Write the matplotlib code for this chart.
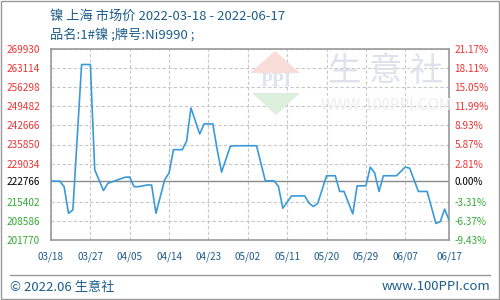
import pandas as pd
import matplotlib
matplotlib.use("Agg")
import matplotlib.pyplot as plt
import matplotlib.dates as mdates
from matplotlib.patches import Polygon, Rectangle
from matplotlib.lines import Line2D

plt.rcParams['font.family'] = ['Noto Sans CJK SC', 'DejaVu Sans']

# nickel, Shanghai market price (yuan/t)
dates = ["03-18", "03-20", "03-21", "03-22", "03-23", "03-25", "03-27", "03-28",
         "03-30", "03-31", "04-04", "04-05", "04-06", "04-07", "04-09", "04-10",
         "04-11", "04-13", "04-14", "04-15", "04-17", "04-18", "04-19", "04-21",
         "04-22", "04-24", "04-25", "04-26", "04-28", "04-29", "05-04", "05-06",
         "05-08", "05-09", "05-10", "05-12", "05-15", "05-16", "05-17", "05-18",
         "05-20", "05-22", "05-23", "05-24", "05-26", "05-27", "05-29", "05-30",
         "05-31", "06-01", "06-02", "06-05", "06-07", "06-08", "06-10", "06-12",
         "06-14", "06-15", "06-16", "06-17"]
prices = [222766, 222766, 220800, 211300, 212500, 264400, 264400, 226800,
          219400, 222000, 224200, 224200, 220800, 220800, 221400, 221400,
          211300, 223300, 225700, 234000, 234000, 237000, 248900, 239600,
          243200, 243200, 234000, 226000, 235200, 235400, 235400, 222900,
          222900, 220900, 213100, 217500, 217500, 214900, 213700, 214900,
          224700, 224700, 219100, 219100, 211100, 221100, 221100, 227800,
          225700, 219100, 224700, 224700, 227800, 227400, 219100, 219100,
          207700, 208300, 212800, 208900]

base_price = 222766
y_ticks = [201770, 208586, 215402, 222766, 229034, 235850, 242666,
           249482, 256298, 263114, 269930]
pct_labels = ["-9.43%", "-6.37%", "-3.31%", "0.00%", "2.81%", "5.87%",
              "8.93%", "11.99%", "15.05%", "18.11%", "21.17%"]
x_tick_dates = ["03-18", "03-27", "04-05", "04-14", "04-23", "05-02",
                "05-11", "05-20", "05-29", "06-07", "06-17"]

BLUE = "#1d5d8c"
RED = "#ee3333"
GREEN = "#33aa33"
LINE = "#3a9ad9"

x = pd.to_datetime(["2022-" + d for d in dates])
xt = pd.to_datetime(["2022-" + d for d in x_tick_dates])

fig = plt.figure(figsize=(5, 3), dpi=100)
ax = fig.add_axes([51 / 500, 60 / 300, 398 / 500, 191 / 300])

# faint watermark
wm = dict(transform=fig.transFigure, zorder=0)
fig.patches.append(Polygon([[250 / 500, 1 - 73 / 300], [300 / 500, 1 - 73 / 300],
                            [275 / 500, 1 - 51 / 300]], closed=True,
                           fc="#f8dcd8", ec="none", **wm))
fig.patches.append(Polygon([[252 / 500, 1 - 93 / 300], [300 / 500, 1 - 93 / 300],
                            [276 / 500, 1 - 115 / 300]], closed=True,
                           fc="#dcefdc", ec="none", **wm))
fig.text(276 / 500, 1 - 81 / 300, "PPI", ha="center", va="center", fontsize=14,
         fontweight="bold", family="Liberation Serif", color="#dde3ef", zorder=0)
fig.text(386 / 500, 1 - 71 / 300, "生 意 社", ha="center", va="center",
         fontsize=24, color="#dfe2ec", zorder=0)
fig.text(386 / 500, 1 - 105 / 300, "WWW.100PPI.COM", ha="center", va="center",
         fontsize=11, color="#ededed", zorder=0)
ax.patch.set_alpha(0)

ax.plot(x, prices, color=LINE, lw=1.2, zorder=3)
ax.axhline(base_price, color="#8c8c8c", lw=1.0, zorder=2)

ax.set_xlim(xt[0], xt[-1])
ax.set_ylim(y_ticks[0], y_ticks[-1])
ax.set_yticks(y_ticks)
ax.set_yticklabels([str(v) for v in y_ticks])
ax.set_xticks(xt)
ax.xaxis.set_major_formatter(mdates.DateFormatter("%m/%d"))
ax.grid(True, ls=(0, (3, 2)), color="#c8c8c8", lw=0.8)
ax.tick_params(axis="y", length=0, pad=8, labelsize=7.2)
ax.tick_params(axis="x", length=0, pad=8, labelsize=7.2, labelcolor=BLUE)
for sp in ax.spines.values():
    sp.set_color("#999999")
    sp.set_linewidth(1.2)

ax2 = ax.twinx()
ax2.set_ylim(ax.get_ylim())
ax2.set_yticks(y_ticks)
ax2.set_yticklabels(pct_labels)
ax2.tick_params(axis="y", length=0, pad=4, labelsize=7.2)
for sp in ax2.spines.values():
    sp.set_visible(False)

for axis in (ax, ax2):
    for lab, v in zip(axis.get_yticklabels(), y_ticks):
        lab.set_color(RED if v > base_price else (GREEN if v < base_price else "black"))

fig.text(50 / 500, 1 - 16 / 300, "镍 上海 市场价 2022-03-18 - 2022-06-17",
         ha="left", va="center", fontsize=9.5, color=BLUE)
fig.text(50 / 500, 1 - 35 / 300, "品名:1#镍 ;牌号:Ni9990 ;",
         ha="left", va="center", fontsize=9.5, color=BLUE)

fig.lines.append(Line2D([10 / 500, 490 / 500], [1 - 275 / 300, 1 - 275 / 300],
                        transform=fig.transFigure, color="#999999", lw=1))
fig.text(10 / 500, 1 - 287 / 300, "© 2022.06 生意社", ha="left", va="center",
         fontsize=9.5, color=BLUE)
fig.text(490 / 500, 1 - 287 / 300, "www.100PPI.com", ha="right", va="center",
         fontsize=9.5, color=BLUE)
fig.patches.append(Rectangle((0.001, 0.002), 0.997, 0.995, transform=fig.transFigure,
                             fill=False, ec="#999999", lw=1))

fig.savefig("out.png", dpi=100)
